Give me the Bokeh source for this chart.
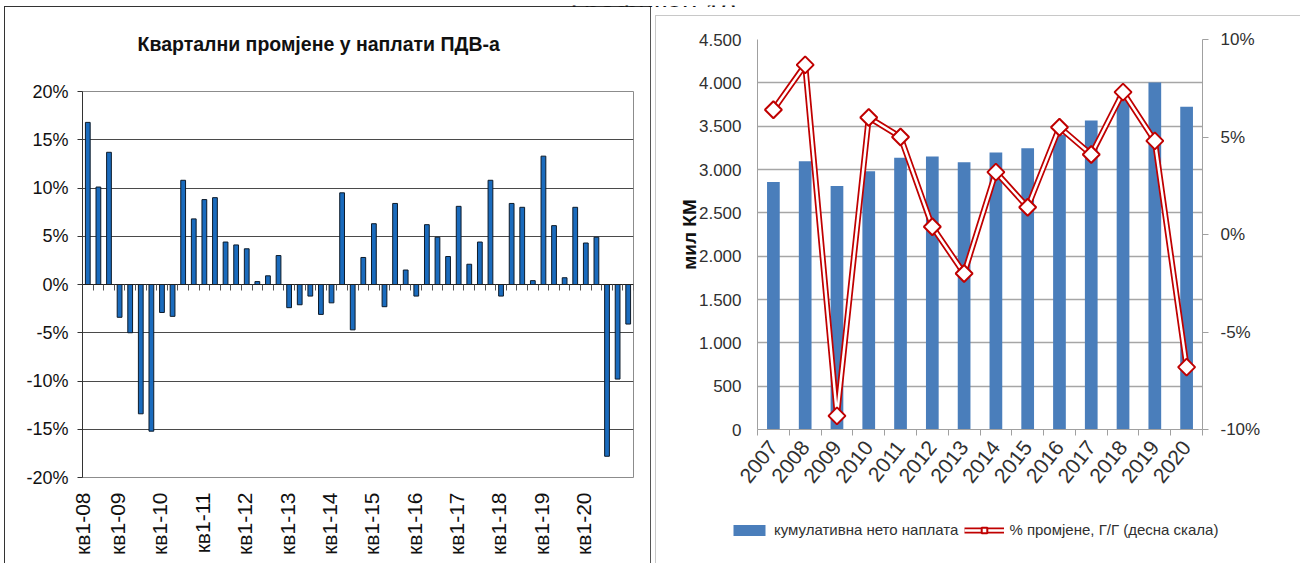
from math import pi
from bokeh.plotting import figure
from bokeh.models import (FixedTicker, LinearAxis, Range1d, Legend, LegendItem, Label,
                          CustomJSTickFormatter)
from bokeh.embed import file_html
from bokeh.resources import INLINE

# ---------------- data: left chart (quarterly change, %) ----------------
quarter_tick_labels = ["кв1-08", "кв1-09", "кв1-10", "кв1-11", "кв1-12", "кв1-13", "кв1-14",
                       "кв1-15", "кв1-16", "кв1-17", "кв1-18", "кв1-19", "кв1-20"]
quarter_changes = [16.8, 10.1, 13.7, -3.4, -5.0, -13.4, -15.2, -2.9, -3.3, 10.8, 6.8, 8.8, 9.0,
                   4.4, 4.1, 3.7, 0.3, 0.9, 3.0, -2.4, -2.1, -1.2, -3.1, -1.9, 9.5, -4.7,
                   2.8, 6.3, -2.3, 8.4, 1.5, -1.2, 6.2, 4.9, 2.9, 8.1, 2.1, 4.4, 10.8, -1.2,
                   8.4, 8.0, 0.4, 13.3, 6.1, 0.7, 8.0, 4.3, 4.9, -17.8, -9.8, -4.1]
left_title = "Квартални промјене у наплати ПДВ-а"
page_caption = "Графикон 18"

# ---------------- data: right chart ----------------
years = ["2007", "2008", "2009", "2010", "2011", "2012", "2013",
         "2014", "2015", "2016", "2017", "2018", "2019", "2020"]
cumulative_net = [2855, 3095, 2810, 2980, 3135, 3150, 3085, 3195, 3245, 3400, 3565, 3840, 4005, 3725]
yoy_change = [6.4, 8.7, -9.3, 6.0, 5.0, 0.4, -2.0, 3.2, 1.4, 5.5, 4.1, 7.3, 4.8, -6.8]
bar_label = "кумулативна нето наплата"
line_label = "% промјене, Г/Г (десна скала)"
y_axis_label = "мил КМ"

FONT = "Liberation Sans"
BAR_BLUE = "#4a7ebb"
LINE_RED = "#c00000"


def text_canvas(width, height, left, top):
    """Small axis-less canvas used only to hold a text label at a fixed page position."""
    c = figure(width=width, height=height, output_backend="svg", toolbar_location=None,
               x_axis_type=None, y_axis_type=None, min_border=0,
               x_range=Range1d(0, 1), y_range=Range1d(0, 1))
    c.styles = {"position": "absolute", "left": f"{left}px", "top": f"{top}px"}
    c.outline_line_color = None
    c.grid.grid_line_color = None
    c.background_fill_alpha = 0
    c.border_fill_alpha = 0
    return c


# ======================= left figure =======================
nq = len(quarter_changes)
qx = list(range(nq))
p1 = figure(width=647, height=557, output_backend="svg", toolbar_location=None,
            x_range=Range1d(-0.5, nq - 0.5), y_range=Range1d(-20, 20),
            min_border_left=77, min_border_right=19, min_border_top=84, min_border_bottom=87)
p1.styles = {"position": "absolute", "left": "4px", "top": "6px",
             "border-left": "1px solid #333333", "border-top": "1px solid #333333",
             "border-right": "1px solid #555555"}
p1.outline_line_color = "#8c8c8c"

p1.vbar(x=qx, top=quarter_changes, bottom=0, width=0.45,
        fill_color="#1a6bbd", line_color="#0d1b2a", line_width=1)

pct_ticks = [-20, -15, -10, -5, 0, 5, 10, 15, 20]
p1.yaxis.ticker = FixedTicker(ticks=pct_ticks)
p1.yaxis.formatter = CustomJSTickFormatter(code="return tick + '%';")
p1.yaxis.major_label_text_font = FONT
p1.yaxis.major_label_text_font_size = "18px"
p1.yaxis.major_label_text_color = "#111111"
p1.yaxis.axis_line_color = "#333333"
p1.yaxis.major_tick_line_color = "#333333"
p1.yaxis.major_tick_out = 5
p1.yaxis.major_tick_in = 0
p1.yaxis.minor_tick_line_color = None
p1.yaxis.major_label_standoff = 9

p1.ygrid.ticker = FixedTicker(ticks=pct_ticks)
p1.ygrid.grid_line_color = "#4a4a4a"
p1.xgrid.grid_line_color = None

label_shift = 1.2
p1.xaxis.ticker = FixedTicker(ticks=[max(4 * k - label_shift, -0.5) for k in range(len(quarter_tick_labels))])
p1.xaxis.formatter = CustomJSTickFormatter(args=dict(labels=quarter_tick_labels, shift=label_shift),
                                           code="return labels[Math.round((tick + shift) / 4)] || '';")
p1.xaxis.major_label_orientation = pi / 2
p1.xaxis.major_label_text_font = FONT
p1.xaxis.major_label_text_font_size = "21px"
p1.xaxis.major_label_text_color = "#111111"
p1.xaxis.axis_line_color = None
p1.xaxis.major_tick_line_color = None
p1.xaxis.minor_tick_line_color = None
p1.xaxis.major_label_standoff = 9

zero_axis = LinearAxis(fixed_location=0,
                       ticker=FixedTicker(ticks=[i - 0.5 for i in range(nq + 1)]),
                       major_label_text_font_size="0px", major_label_text_color=None,
                       axis_line_color="#222222", major_tick_line_color="#555555",
                       major_tick_in=6, major_tick_out=0, minor_tick_line_color=None)
p1.add_layout(zero_axis, "above")

# ---- left chart title ----
p0 = text_canvas(380, 26, 136, 30)
p0.add_layout(Label(x=1, y=13, x_units="screen", y_units="screen", text=left_title,
                    text_font=FONT, text_font_size="19.5px", text_font_style="bold",
                    text_color="#111111", text_align="left", text_baseline="middle"))

# ---- page caption, cut by the top edge as in the reference ----
p5 = text_canvas(200, 7, 568, 0)
p5.add_layout(Label(x=2, y=1, x_units="screen", y_units="screen", text=page_caption,
                    text_font=FONT, text_font_size="28px", text_color="#111111",
                    text_align="left", text_baseline="alphabetic"))

# ======================= right figure =======================
ny = len(years)
yx = list(range(ny))
p2 = figure(width=645, height=548, output_backend="svg", toolbar_location=None,
            x_range=Range1d(-0.5, ny - 0.5), y_range=Range1d(0, 4500),
            min_border_left=101, min_border_right=99, min_border_top=23, min_border_bottom=135)
p2.styles = {"position": "absolute", "left": "655px", "top": "15px",
             "border-left": "1px solid #c8c8c8", "border-top": "1px solid #c8c8c8"}
p2.outline_line_color = None
p2.extra_y_ranges = {"pct": Range1d(-10, 10)}

p2.vbar(x=yx, top=cumulative_net, width=0.4, fill_color=BAR_BLUE, line_color=None)
p2.line(x=yx, y=yoy_change, y_range_name="pct", line_color=LINE_RED, line_width=6)
p2.line(x=yx, y=yoy_change, y_range_name="pct", line_color="white", line_width=2.5)
p2.scatter(x=yx, y=yoy_change, y_range_name="pct", marker="square", angle=pi / 4,
           size=12, fill_color="white", line_color=LINE_RED, line_width=2)

km_ticks = list(range(0, 4501, 500))
p2.yaxis.ticker = FixedTicker(ticks=km_ticks)
p2.yaxis.formatter = CustomJSTickFormatter(code="""
    if (tick >= 1000) { return Math.floor(tick / 1000) + '.' + String(tick % 1000).padStart(3, '0'); }
    return String(tick);""")
p2.yaxis.major_label_text_font = FONT
p2.yaxis.major_label_text_font_size = "17px"
p2.yaxis.major_label_text_color = "#303030"
p2.yaxis.axis_line_color = "#a0a0a0"
p2.yaxis.major_tick_line_color = None
p2.yaxis.minor_tick_line_color = None
p2.yaxis.major_label_standoff = 10
p2.yaxis.axis_label = y_axis_label
p2.yaxis.axis_label_text_font = FONT
p2.yaxis.axis_label_text_font_size = "19px"
p2.yaxis.axis_label_text_font_style = "bold"
p2.yaxis.axis_label_text_color = "#111111"
p2.yaxis.axis_label_standoff = -4

p2.ygrid.ticker = FixedTicker(ticks=km_ticks)
p2.ygrid.grid_line_color = "#a6a6a6"
p2.ygrid.grid_line_width = 1.5
p2.xgrid.grid_line_color = None

right_axis = LinearAxis(y_range_name="pct", ticker=FixedTicker(ticks=[-10, -5, 0, 5, 10]),
                        formatter=CustomJSTickFormatter(code="return tick + '%';"),
                        major_label_text_font=FONT, major_label_text_font_size="17px",
                        major_label_text_color="#303030", axis_line_color="#a0a0a0",
                        major_tick_line_color="#a0a0a0", major_tick_out=6, major_tick_in=0,
                        minor_tick_line_color=None, major_label_standoff=12)
p2.add_layout(right_axis, "right")

p2.xaxis.ticker = FixedTicker(ticks=yx, minor_ticks=[i - 0.5 for i in range(ny + 1)])
p2.xaxis.formatter = CustomJSTickFormatter(args=dict(labels=years),
                                           code="return labels[Math.round(tick)] || '';")
p2.xaxis.major_label_orientation = 0.9
p2.xaxis.major_label_text_font = FONT
p2.xaxis.major_label_text_font_size = "21px"
p2.xaxis.major_label_text_color = "#303030"
p2.xaxis.axis_line_color = "#a0a0a0"
p2.xaxis.major_tick_line_color = None
p2.xaxis.minor_tick_line_color = "#a0a0a0"
p2.xaxis.minor_tick_out = 6
p2.xaxis.minor_tick_in = 0
p2.xaxis.major_label_standoff = 8

# ======================= legend strip (below the right chart) =======================
# legend-only canvas: same series as the right chart, ranges kept away from the data
p3 = figure(width=520, height=30, output_backend="svg", toolbar_location=None,
            x_axis_type=None, y_axis_type=None, min_border=0,
            x_range=Range1d(-100, -99), y_range=Range1d(-100, -99))
p3.styles = {"position": "absolute", "left": "729px", "top": "521px"}
p3.outline_line_color = None
p3.grid.grid_line_color = None
lg_bar = p3.vbar(x=yx, top=cumulative_net, width=0.4, fill_color=BAR_BLUE, line_color=None)
lg_outer = p3.line(x=yx, y=yoy_change, line_color=LINE_RED, line_width=6)
lg_inner = p3.line(x=yx, y=yoy_change, line_color="white", line_width=2.5)
lg_mark = p3.scatter(x=yx, y=yoy_change, marker="square", angle=pi / 4, size=12,
                     fill_color="white", line_color=LINE_RED, line_width=2)
legend = Legend(items=[LegendItem(label=bar_label, renderers=[lg_bar]),
                       LegendItem(label=line_label, renderers=[lg_outer, lg_inner, lg_mark])],
                orientation="horizontal", location="top_left", margin=0,
                border_line_color=None, background_fill_alpha=0,
                label_text_font=FONT, label_text_font_size="15px", label_text_color="#303030",
                glyph_width=40, glyph_height=14, spacing=6, label_standoff=5, padding=4)
p3.add_layout(legend, "center")

open("out.html", "w").write(file_html([p1, p0, p5, p2, p3], INLINE))
